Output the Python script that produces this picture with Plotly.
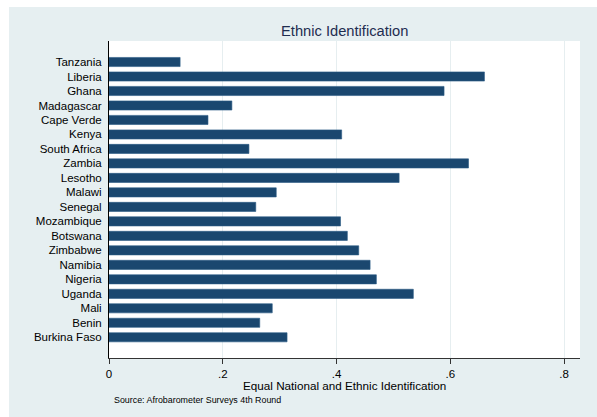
import plotly.graph_objects as go

countries = ["Tanzania", "Liberia", "Ghana", "Madagascar", "Cape Verde", "Kenya",
             "South Africa", "Zambia", "Lesotho", "Malawi", "Senegal", "Mozambique",
             "Botswana", "Zimbabwe", "Namibia", "Nigeria", "Uganda", "Mali", "Benin",
             "Burkina Faso"]
values = [0.125, 0.660, 0.589, 0.216, 0.174, 0.409, 0.246, 0.632, 0.510, 0.294,
          0.258, 0.407, 0.419, 0.439, 0.459, 0.470, 0.535, 0.287, 0.265, 0.313]
x_ticks = [0, 0.2, 0.4, 0.6, 0.8]
x_tick_labels = ["0", ".2", ".4", ".6", ".8"]

title_text = "Ethnic Identification"
xaxis_title = "Equal National and Ethnic Identification"
source_text = "Source: Afrobarometer Surveys 4th Round"

BG = "#e6eff1"
BAR = "#1a476f"
FONT = "Liberation Sans, Arial, sans-serif"

W, H = 597, 417
L, R, T, B = 109, 17, 41, 59
pw, ph = W - L - R, H - T - B

def px_x(p):
    return (p - L) / pw

def px_y(p):
    return (H - B - p) / ph

fig = go.Figure()
fig.add_trace(go.Bar(
    x=values, y=countries, orientation="h",
    marker=dict(color=BAR, line=dict(color="#2a5a85", width=0.6)),
    width=0.63,
))

n = len(countries)
fig.update_layout(
    template="none",
    width=W, height=H,
    margin=dict(l=L, r=R, t=T, b=B, pad=0),
    paper_bgcolor=BG,
    plot_bgcolor="#ffffff",
    showlegend=False,
    font=dict(family=FONT, color="black", size=11.5),
    shapes=[
        dict(type="rect", xref="paper", yref="paper", layer="above",
             x0=px_x(-5), x1=px_x(9), y0=px_y(H + 5), y1=px_y(-5),
             fillcolor="white", line=dict(width=0)),
        dict(type="rect", xref="paper", yref="paper", layer="above",
             x0=px_x(-5), x1=px_x(W + 5), y0=px_y(7), y1=px_y(-5),
             fillcolor="white", line=dict(width=0)),
    ],
    annotations=[
        dict(text=title_text, xref="paper", yref="paper", x=0.5, y=px_y(31),
             xanchor="center", yanchor="middle", showarrow=False,
             font=dict(family=FONT, size=14.7, color="#1f2d50")),
        dict(text=xaxis_title, xref="paper", yref="paper", x=0.5, y=px_y(385),
             xanchor="center", yanchor="middle", showarrow=False,
             font=dict(family=FONT, size=11.7, color="black")),
        dict(text=source_text, xref="paper", yref="paper", x=px_x(111.5), y=px_y(400),
             xanchor="left", yanchor="middle", showarrow=False,
             font=dict(family=FONT, size=8.9, color="black")),
    ],
)

fig.update_xaxes(
    range=[0, 0.828],
    tickvals=x_ticks, ticktext=x_tick_labels,
    ticks="outside", ticklen=5, tickcolor="#333333", tickwidth=1,
    showline=True, linecolor="#333333", linewidth=1,
    showgrid=True, gridcolor="#e6eef0", gridwidth=1,
    zeroline=False,
    tickfont=dict(family=FONT, size=11.5, color="black"),
)
fig.update_yaxes(
    type="category",
    categoryorder="array", categoryarray=countries,
    range=[n - 1 + 1.43, -1.45],
    ticks="", showline=True, linecolor="black", linewidth=1,
    showgrid=False, zeroline=False,
    ticklabelstandoff=4,
    tickfont=dict(family=FONT, size=11.5, color="black"),
)

fig.write_html("out.html")
